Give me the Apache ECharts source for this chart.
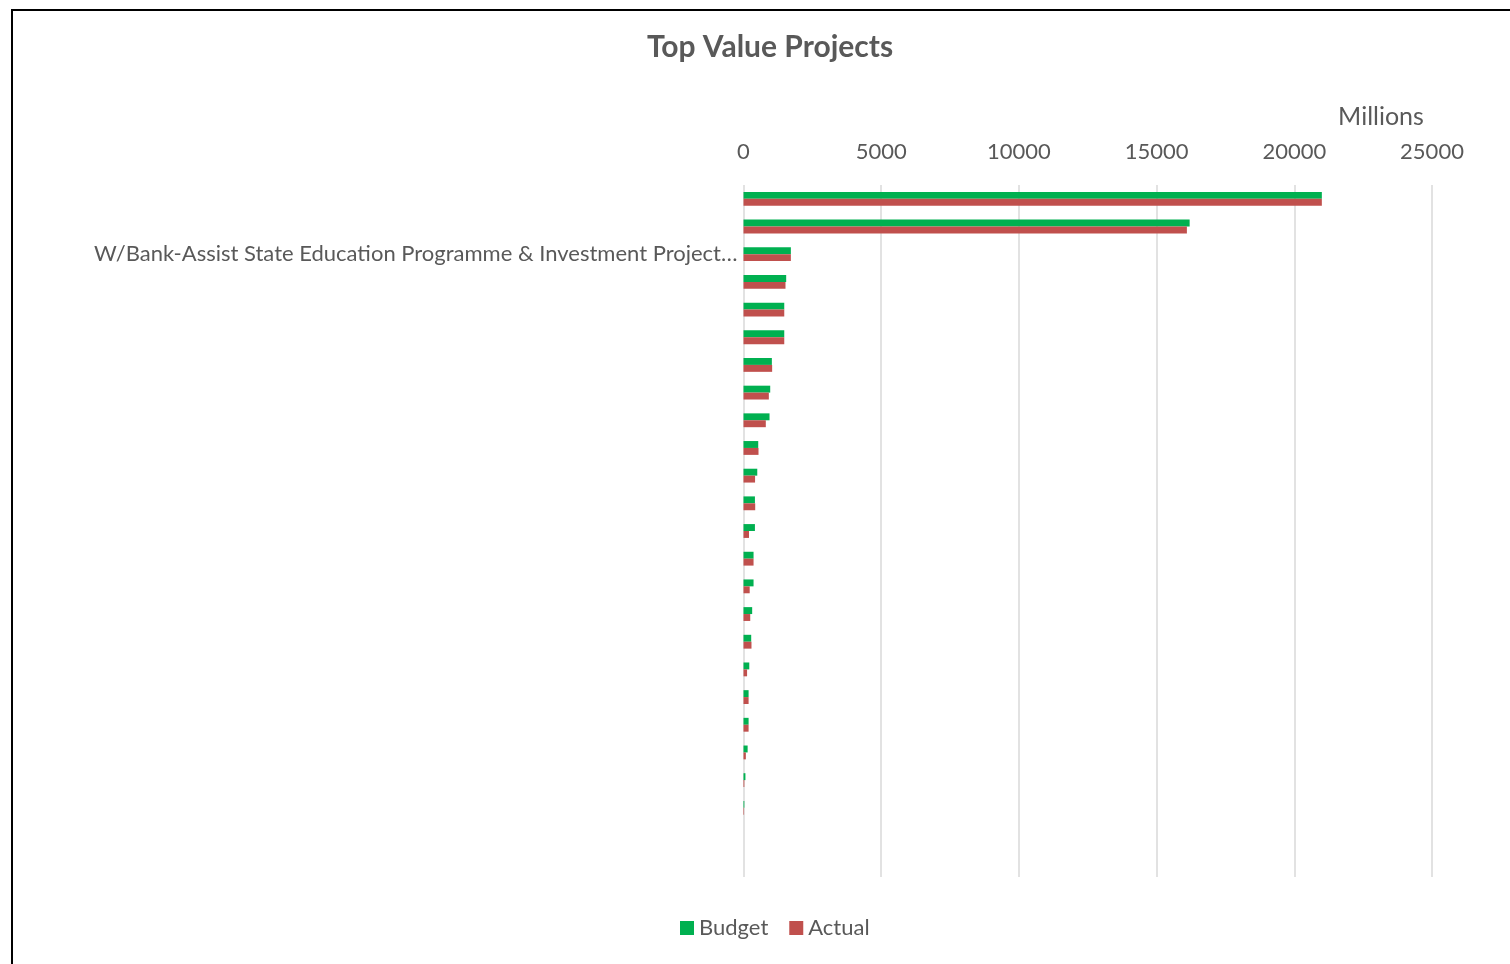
<!DOCTYPE html>
<html>
<head>
<meta charset="utf-8">
<script src="https://cdn.jsdelivr.net/npm/echarts@6/dist/echarts.min.js"></script>
<style>
html,body{margin:0;padding:0;background:#fff;overflow:hidden;}
#frame{position:absolute;left:11px;top:9px;width:1600px;height:1100px;border:2px solid #000;box-sizing:border-box;}
#chart{position:absolute;left:0;top:0;width:1510px;height:964px;}
</style>
</head>
<body>
<div id="frame"></div>
<div id="chart"></div>
<script>
const titleText = 'Top Value Projects';
const unitText = 'Millions';
const seriesNames = ['Budget', 'Actual'];
const categories = ['', '', 'W/Bank-Assist State Education Programme & Investment Project…', '', '', '', '', '', '', '', '', '', '', '', '', '', '', '', '', '', '', '', '', '', ''];
const budget = [21000, 16200, 1720, 1550, 1480, 1480, 1030, 970, 945, 535, 500, 415, 415, 365, 365, 315, 280, 210, 185, 185, 150, 70, 30, 0, 0];
const actual = [21000, 16100, 1720, 1525, 1480, 1480, 1040, 920, 810, 545, 420, 425, 200, 365, 225, 245, 290, 130, 185, 185, 85, 30, 20, 0, 0];
const xTicks = { min: 0, max: 25000, interval: 5000 };

const chart = echarts.init(document.getElementById('chart'));
const txt = '#595959';
const font = 'Lato, "Open Sans", sans-serif';
chart.setOption({
  animation: false,
  textStyle: { fontFamily: font },
  graphic: [
    { type: 'text', x: 770, y: 47, style: { text: titleText, font: 'bold 30px ' + font, fill: txt, align: 'center', verticalAlign: 'middle' } },
    { type: 'text', x: 1381, y: 117, style: { text: unitText, font: '25px ' + font, fill: txt, align: 'center', verticalAlign: 'middle' } }
  ],
  legend: {
    data: seriesNames,
    left: 680,
    top: 917,
    padding: 0,
    icon: 'rect',
    itemWidth: 14,
    itemHeight: 14,
    itemGap: 21,
    textStyle: { fontSize: 22, color: txt, fontFamily: font }
  },
  grid: { left: 743.5, right: 78, top: 185, bottom: 87, containLabel: false },
  xAxis: {
    type: 'value',
    position: 'top',
    min: xTicks.min, max: xTicks.max, interval: xTicks.interval,
    axisLine: { show: false },
    axisTick: { show: false },
    axisLabel: { fontSize: 22, color: txt, margin: 22, fontFamily: font, formatter: v => String(v) },
    splitLine: { show: true, lineStyle: { color: '#d9d9d9', width: 1.5 } }
  },
  yAxis: {
    type: 'category',
    inverse: true,
    data: categories,
    axisLine: { show: false },
    axisTick: { show: false },
    axisLabel: { interval: 0, fontSize: 22, color: txt, margin: 6, width: 660, overflow: 'truncate', ellipsis: '…', fontFamily: font }
  },
  series: [
    { name: seriesNames[0], type: 'bar', data: budget, itemStyle: { color: '#00B050' }, barGap: '0%', barCategoryGap: '50%' },
    { name: seriesNames[1], type: 'bar', data: actual, itemStyle: { color: '#C0504D' }, barGap: '0%', barCategoryGap: '50%' }
  ]
});
</script>
</body>
</html>
